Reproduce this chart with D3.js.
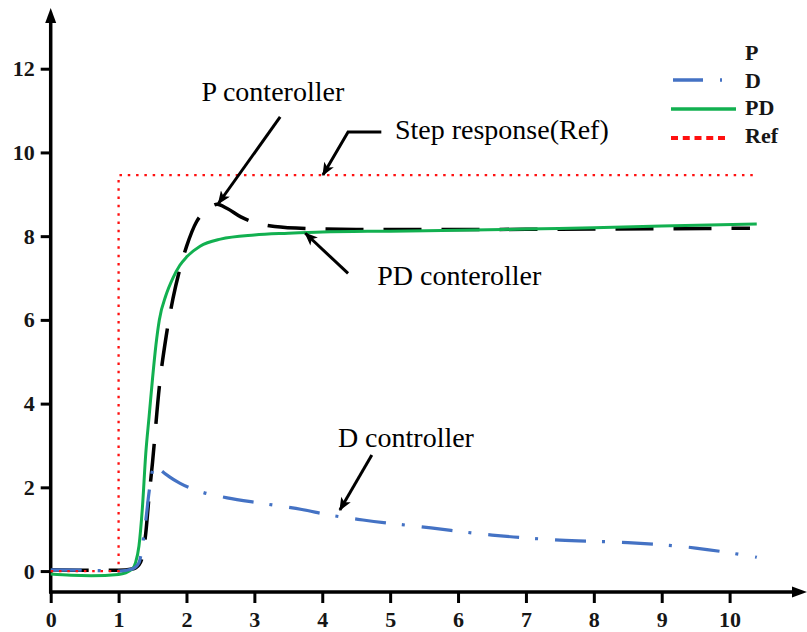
<!DOCTYPE html>
<html>
<head>
<meta charset="utf-8">
<script src="https://cdn.jsdelivr.net/npm/d3@7"></script>
<style>
  html, body { margin: 0; padding: 0; background: #fff; }
  svg { display: block; }
  svg text { font-family: "Liberation Serif", Tinos, "Times New Roman", "DejaVu Serif", serif; }
</style>
</head>
<body>
<svg id="chart" width="807" height="632"></svg>
<script>
// ── Data ────────────────────────────────────────────────────────────
const X_TICKS = [0, 1, 2, 3, 4, 5, 6, 7, 8, 9, 10];
const Y_TICKS = [0, 2, 4, 6, 8, 10, 12];

const P_X  = [0, 0.5, 1, 1.2, 1.3, 1.35, 1.4, 1.45, 1.5, 1.6, 1.7, 1.8, 1.9, 2.0, 2.15, 2.3, 2.45, 2.6, 2.8, 3.0, 3.3, 3.8, 4.5, 6, 8, 10.3];
const P_Y  = [0.03, 0.02, 0.02, 0.05, 0.15, 0.35, 0.9, 1.8, 2.6, 4.4, 5.6, 6.5, 7.2, 7.75, 8.35, 8.62, 8.76, 8.66, 8.46, 8.33, 8.23, 8.18, 8.16, 8.16, 8.17, 8.19];

const D_X  = [0, 0.5, 1, 1.2, 1.3, 1.35, 1.4, 1.45, 1.5, 1.55, 1.6, 1.75, 1.9, 2.2, 2.6, 3.1, 3.7, 4.1, 4.6, 5.6, 6.5, 7.5, 8.5, 9.5, 10.4];
const D_Y  = [0.03, 0.02, 0.0, 0.05, 0.2, 0.6, 1.2, 1.9, 2.4, 2.55, 2.45, 2.25, 2.1, 1.9, 1.75, 1.62, 1.47, 1.34, 1.22, 1.03, 0.86, 0.74, 0.68, 0.55, 0.33];

const PD_X = [0, 0.3, 0.6, 1, 1.2, 1.25, 1.3, 1.35, 1.4, 1.45, 1.5, 1.55, 1.6, 1.7, 1.8, 1.9, 2.0, 2.2, 2.5, 3, 3.5, 4, 5, 6, 7, 8, 9, 10.4];
const PD_Y = [-0.07, -0.1, -0.11, -0.08, 0.05, 0.2, 0.6, 1.5, 2.8, 3.7, 4.6, 5.4, 6.0, 6.6, 7.0, 7.3, 7.5, 7.76, 7.93, 8.03, 8.07, 8.1, 8.12, 8.14, 8.17, 8.2, 8.24, 8.29];

const REF_X = [0, 1, 1, 10.4];
const REF_Y = [0, 0, 9.46, 9.46];

const LEGEND_LABELS = ["P", "D", "PD", "Ref"];

// annotations: text anchor and arrow path, in data units
const NOTES = [
  { text: "P conteroller",      at: [2.22, 11.23], arrow: [[3.38, 10.85], [2.47, 8.78]] },
  { text: "Step response(Ref)", at: [5.07, 10.32], arrow: [[4.87, 10.49], [4.38, 10.49], [4.01, 9.46]] },
  { text: "PD conteroller",     at: [4.81, 6.83],  arrow: [[4.38, 7.11], [3.75, 8.07]] },
  { text: "D controller",       at: [4.23, 2.97],  arrow: [[4.73, 2.77], [4.26, 1.46]] }
];

// ── Setup ───────────────────────────────────────────────────────────
const svg = d3.select("#chart");
const x = d3.scaleLinear().domain([0, 11.14]).range([50.7, 807]);
const y = d3.scaleLinear().domain([-0.5, 13.45]).range([592, 8]);

const defs = svg.append("defs");
defs.append("marker")
  .attr("id", "head")
  .attr("viewBox", "0 0 12 10")
  .attr("refX", 11).attr("refY", 5)
  .attr("markerWidth", 14).attr("markerHeight", 11)
  .attr("markerUnits", "userSpaceOnUse")
  .attr("orient", "auto")
  .append("path").attr("d", "M0,0 L12,5 L0,10 L3,5 Z").attr("fill", "#000");

// ── Axes ────────────────────────────────────────────────────────────
const tickFont = g => g
  .attr("font-family", null)
  .selectAll("text")
  .attr("font-size", 22).attr("font-weight", "bold").attr("fill", "#161616");

svg.append("g").attr("transform", `translate(0,${y(-0.5)})`)
  .call(d3.axisBottom(x).tickValues(X_TICKS).tickSize(11).tickPadding(8).tickFormat(d3.format("d")))
  .call(g => g.select(".domain").remove())
  .call(g => g.selectAll("line").attr("stroke", "#000").attr("stroke-width", 3))
  .call(tickFont);

svg.append("g").attr("transform", `translate(${x(0)},0)`)
  .call(d3.axisLeft(y).tickValues(Y_TICKS).tickSize(10).tickPadding(6).tickFormat(d3.format("d")))
  .call(g => g.select(".domain").remove())
  .call(g => g.selectAll("line").attr("stroke", "#000").attr("stroke-width", 3))
  .call(tickFont);

// axis lines with arrow tips
const x0 = x(0), yb = y(-0.5);
svg.append("line").attr("x1", x0).attr("y1", yb + 1.5).attr("x2", x0).attr("y2", 20)
  .attr("stroke", "#000").attr("stroke-width", 3.5);
svg.append("path").attr("d", `M${x0},8 L${x0 + 5.5},23 L${x0 - 5.5},23 Z`).attr("fill", "#000");
svg.append("line").attr("x1", x0 - 1.5).attr("y1", yb).attr("x2", 795).attr("y2", yb)
  .attr("stroke", "#000").attr("stroke-width", 3.5);
svg.append("path").attr("d", `M807,${yb} L792,${yb - 5.5} L792,${yb + 5.5} Z`).attr("fill", "#000");

// ── Series ──────────────────────────────────────────────────────────
const smooth = d3.line().x(d => x(d[0])).y(d => y(d[1])).curve(d3.curveMonotoneX);
const straight = d3.line().x(d => x(d[0])).y(d => y(d[1]));
const zip = (xs, ys) => xs.map((v, i) => [v, ys[i]]);

svg.append("path").datum(zip(P_X, P_Y)).attr("d", smooth)
  .attr("fill", "none").attr("stroke", "#000").attr("stroke-width", 3.5)
  .attr("stroke-dasharray", "38,20");

svg.append("path").datum(zip(PD_X, PD_Y)).attr("d", smooth)
  .attr("fill", "none").attr("stroke", "#12b050").attr("stroke-width", 3);

svg.append("path").datum(zip(D_X, D_Y)).attr("d", smooth)
  .attr("fill", "none").attr("stroke", "#4472c4").attr("stroke-width", 3.2)
  .attr("stroke-dasharray", "31,16,3,17");

svg.append("path").datum(zip(REF_X, REF_Y)).attr("d", straight)
  .attr("fill", "none").attr("stroke", "#ff1010").attr("stroke-width", 2.3)
  .attr("stroke-dasharray", "2.5,5.8");

// ── Annotations ─────────────────────────────────────────────────────
NOTES.forEach(n => {
  svg.append("path").datum(n.arrow).attr("d", straight)
    .attr("fill", "none").attr("stroke", "#000").attr("stroke-width", 3)
    .attr("marker-end", "url(#head)");
  svg.append("text")
    .attr("x", x(n.at[0])).attr("y", y(n.at[1]))
    .attr("font-size", 28).attr("fill", "#000")
    .text(n.text);
});

// ── Legend ──────────────────────────────────────────────────────────
const lg = svg.append("g").attr("font-size", 22).attr("font-weight", "bold").attr("fill", "#161616");
const rowY = [52, 80, 107, 135];
LEGEND_LABELS.forEach((lab, i) => {
  lg.append("text").attr("x", 745).attr("y", rowY[i]).attr("dy", "0.35em").text(lab);
});
lg.append("line").attr("x1", 673).attr("x2", 722).attr("y1", rowY[1]).attr("y2", rowY[1])
  .attr("stroke", "#4472c4").attr("stroke-width", 3.5).attr("stroke-dasharray", "30,17,3,20");
lg.append("line").attr("x1", 671).attr("x2", 736).attr("y1", rowY[2] + 2).attr("y2", rowY[2] + 2)
  .attr("stroke", "#12b050").attr("stroke-width", 3.5);
lg.append("line").attr("x1", 671).attr("x2", 725).attr("y1", rowY[3] + 3).attr("y2", rowY[3] + 3)
  .attr("stroke", "#ff1010").attr("stroke-width", 4).attr("stroke-dasharray", "7,4.75");
</script>
</body>
</html>
